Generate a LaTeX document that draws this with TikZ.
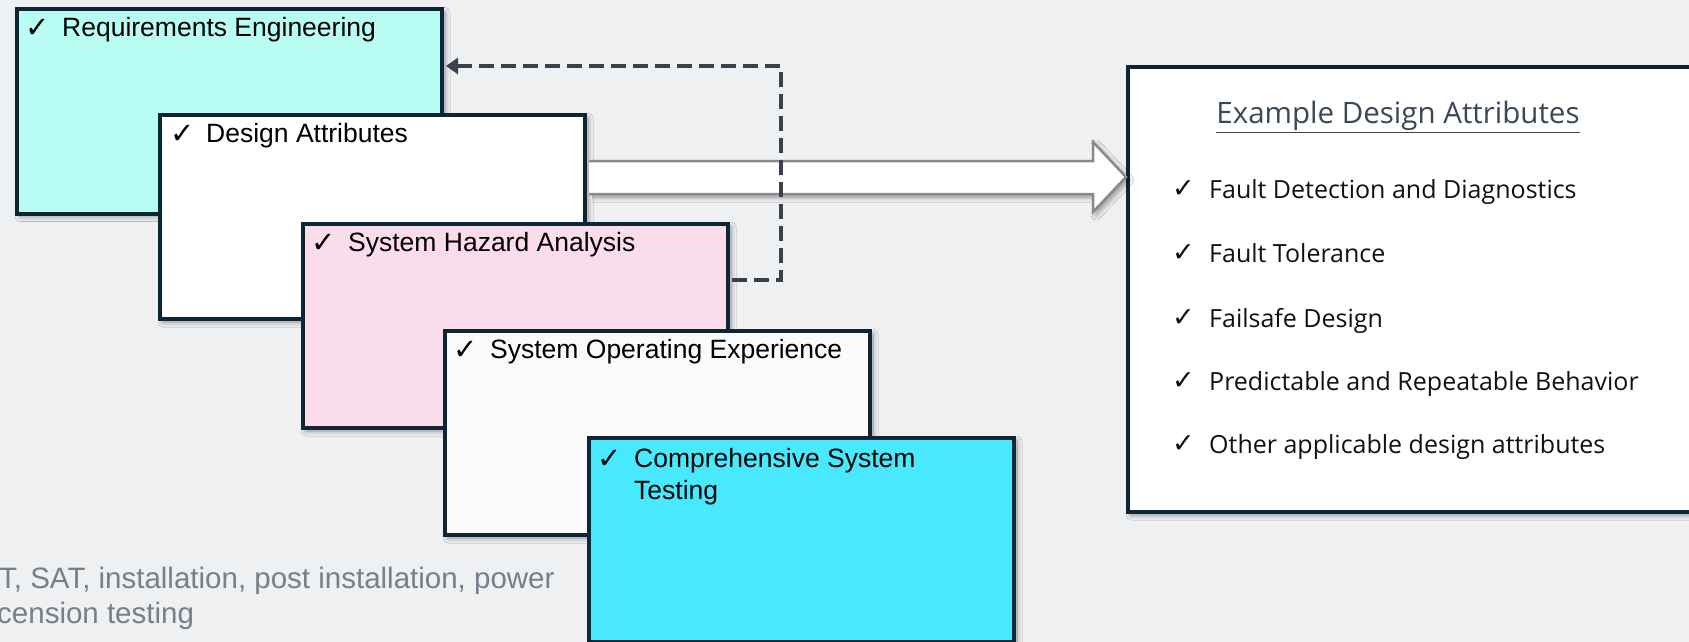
\documentclass[tikz,border=0pt]{standalone}
\usepackage{fontspec}
\setmainfont{Liberation Sans}
\newfontfamily\symf{DejaVu Sans}
\newfontfamily\aptf{Open Sans}
\usetikzlibrary{shadows,shadows.blur,arrows.meta}
\definecolor{bg}{HTML}{EFF0F2}
\definecolor{bordc}{HTML}{0E2535}
\definecolor{fillA}{HTML}{B8FCF4}
\definecolor{fillC}{HTML}{FADCEA}
\definecolor{fillD}{HTML}{FAFAFA}
\definecolor{fillE}{HTML}{48E8FD}
\definecolor{dashc}{HTML}{3A414A}
\definecolor{arrc}{HTML}{8A8A8A}
\definecolor{headc}{HTML}{3A4858}
\definecolor{greyt}{HTML}{74808C}
\definecolor{itemc}{HTML}{111111}
\tikzset{
  shad/.style={blur shadow={shadow xshift=3pt, shadow yshift=-3pt, shadow blur radius=5pt, shadow blur steps=8, shadow opacity=40}},
  stackbox/.style={draw=bordc, line width=4pt, minimum width=425pt, minimum height=204pt, anchor=north west, inner sep=0pt, shad},
  chk/.style={font=\symf\fontsize{29}{32}\selectfont, inner sep=0pt, anchor=base west},
  lbl/.style={font=\fontsize{26.5}{32}\selectfont, inner sep=0pt, anchor=base west},
  ichk/.style={font=\symf\fontsize{27}{30}\selectfont, inner sep=0pt, anchor=base west, text=itemc},
  item/.style={font=\aptf\fontsize{25}{30}\selectfont, inner sep=0pt, anchor=base west, text=itemc},
  gtxt/.style={font=\fontsize{29.5}{34}\selectfont, inner sep=0pt, anchor=base west, text=greyt},
  dashconn/.style={draw=dashc, line width=3.5pt, dash pattern=on 15pt off 7pt, -{Triangle[length=12pt,width=16pt]}},
}
\begin{document}
\begin{tikzpicture}[x=1pt,y=-1pt]
\useasboundingbox (0,0) rectangle (1689,642);
\clip (0,0) rectangle (1689,642);
\fill[bg] (0,0) rectangle (1689,642);

% stacked boxes
\node[stackbox, fill=fillA] (b1) at (15,7.5) {};
\node[chk] (c1) at ([xshift=10pt,yshift=-30pt]b1.north west) {✓};
\node[lbl] (t1) at ([xshift=47pt,yshift=-29pt]b1.north west) {Requirements Engineering};

\node[stackbox, fill=white] (b2) at (158,113) {};
\node[chk] (c2) at ([xshift=12pt,yshift=-30pt]b2.north west) {✓};
\node[lbl] (t2) at ([xshift=48pt,yshift=-29pt]b2.north west) {Design Attributes};

\node[stackbox, fill=fillC] (b3) at (301,222) {};
\node[chk] (c3) at ([xshift=10pt,yshift=-30pt]b3.north west) {✓};
\node[lbl] (t3) at ([xshift=47pt,yshift=-29pt]b3.north west) {System Hazard Analysis};

\node[stackbox, fill=fillD] (b4) at (443,329) {};
\node[chk] (c4) at ([xshift=10pt,yshift=-30pt]b4.north west) {✓};
\node[lbl] (t4) at ([xshift=47pt,yshift=-29pt]b4.north west) {System Operating Experience};

\node[stackbox, fill=fillE] (b5) at (587,436) {};
\node[chk] (c5) at ([xshift=10pt,yshift=-32pt]b5.north west) {✓};
\node[lbl] (t5) at ([xshift=47pt,yshift=-31pt]b5.north west) {Comprehensive System};
\node[lbl] (t5b) at ([xshift=47pt,yshift=-63pt]b5.north west) {Testing};

% right box
\node[draw=bordc, line width=4pt, fill=white, minimum width=620pt, minimum height=445pt, anchor=north west, inner sep=0pt, shad] (rb) at (1126,65) {};
\node[font=\aptf\fontsize{29.5}{34}\selectfont, text=headc, inner sep=0pt] (hd) at (1398,117) {\underline{Example Design Attributes}};
\node[ichk] (i1c) at (1172,197) {✓};
\node[item] (i1) at (1209,198) {Fault Detection and Diagnostics};
\node[ichk] (i2c) at (1172,261) {✓};
\node[item] (i2) at (1209,262) {Fault Tolerance};
\node[ichk] (i3c) at (1172,326) {✓};
\node[item] (i3) at (1209,327) {Failsafe Design};
\node[ichk] (i4c) at (1172,389) {✓};
\node[item] (i4) at (1209,390) {Predictable and Repeatable Behavior};
\node[ichk] (i5c) at (1172,452) {✓};
\node[item] (i5) at (1209,453) {Other applicable design attributes};

% block arrow
\draw[draw=arrc, line width=2.5pt, fill=white, line join=miter, shad]
  ([xshift=2pt]b2.east |- 0,161) -- (1093,161) -- (1093,142) -- (rb.west |- 0,177)
  -- (1093,212) -- (1093,194) -- ([xshift=2pt]b2.east |- 0,194);

% dashed feedback connector
\coordinate (dk) at (781,66);
\draw[dashconn] ([xshift=2pt]b3.east |- 0,280) -| (dk) -- ([xshift=2pt]b1.east |- dk);

% clipped grey text
\node[gtxt] (g1) at (-1,588) {T, SAT, installation, post installation, power};
\node[gtxt] (g2) at (-3,623) {cension testing};
\end{tikzpicture}
\end{document}
